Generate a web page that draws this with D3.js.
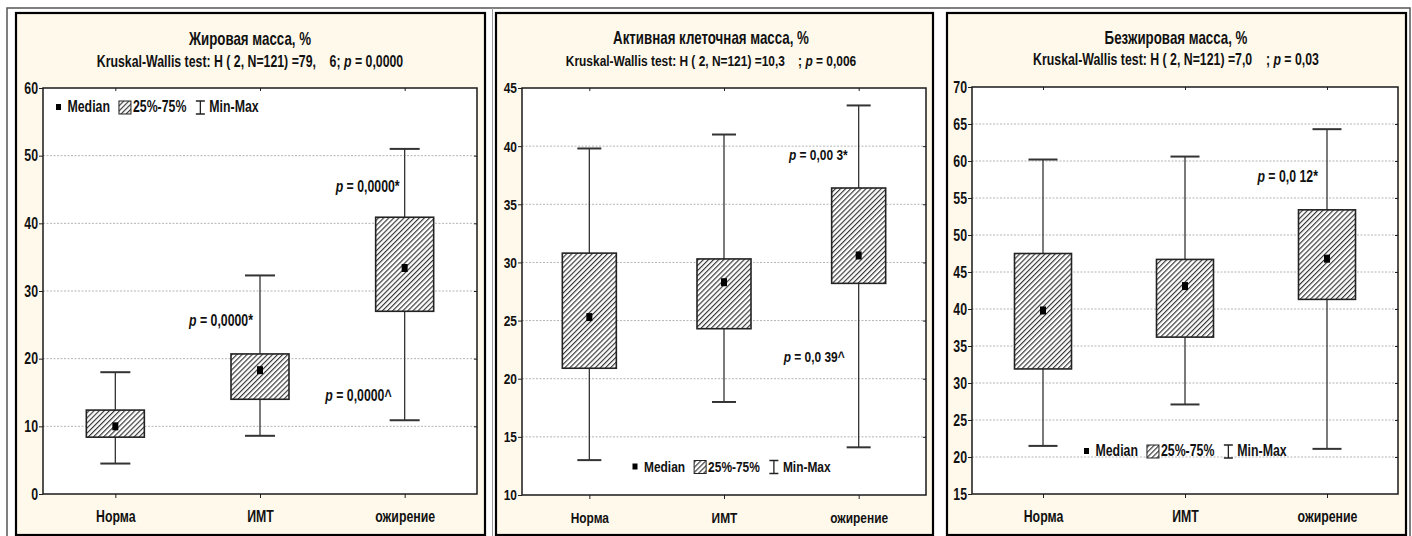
<!DOCTYPE html>
<html><head><meta charset="utf-8">
<script src="https://cdn.jsdelivr.net/npm/d3@7"></script>
<style>
html,body{margin:0;padding:0;background:#fff;}
svg{display:block;}
text{font-family:"Liberation Sans",Arial,sans-serif;font-weight:bold;fill:#111;white-space:pre;}
</style></head><body>
<svg id="c" width="1412" height="536"></svg>
<script>
// ---------- DATA ----------
const categories = ["Норма", "ИМТ", "ожирение"];

// Panel 1: Жировая масса, %
const fatTitle = "Жировая масса, %";
const fatTest = ["Kruskal-Wallis test: H ( 2, N=121) =79,    6; ", " = 0,0000"];
const fatTicks = [0, 10, 20, 30, 40, 50, 60];
const fatMin = [4.5, 8.6, 10.9];
const fatQ1  = [8.4, 14.0, 27.0];
const fatMed = [10.0, 18.3, 33.4];
const fatQ3  = [12.4, 20.7, 40.9];
const fatMax = [18.0, 32.3, 51.0];
const fatNotes = [" = 0,0000*", " = 0,0000*", " = 0,0000^"];
const fatNoteCat = ["ИМТ", "ожирение", "ожирение"];
const fatNoteVal = [24.8, 44.6, 13.7];

// Panel 2: Активная клеточная масса, %
const acmTitle = "Активная клеточная масса, %";
const acmTest = ["Kruskal-Wallis test: H ( 2, N=121) =10,3    ; ", " = 0,006"];
const acmTicks = [10, 15, 20, 25, 30, 35, 40, 45];
const acmMin = [13.0, 18.0, 14.1];
const acmQ1  = [20.9, 24.3, 28.2];
const acmMed = [25.3, 28.3, 30.6];
const acmQ3  = [30.8, 30.3, 36.4];
const acmMax = [39.8, 41.0, 43.5];
const acmNotes = [" = 0,00 3*", " = 0,0 39^"];
const acmNoteCat = ["ожирение", "ожирение"];
const acmNoteVal = [38.8, 21.4];

// Panel 3: Безжировая масса, %
const ffmTitle = "Безжировая масса, %";
const ffmTest = ["Kruskal-Wallis test: H ( 2, N=121) =7,0    ; ", " = 0,03"];
const ffmTicks = [15, 20, 25, 30, 35, 40, 45, 50, 55, 60, 65, 70];
const ffmMin = [21.5, 27.1, 21.1];
const ffmQ1  = [31.9, 36.2, 41.3];
const ffmMed = [39.8, 43.1, 46.8];
const ffmQ3  = [47.5, 46.7, 53.4];
const ffmMax = [60.2, 60.6, 64.3];
const ffmNotes = [" = 0,0 12*"];
const ffmNoteCat = ["ожирение"];
const ffmNoteVal = [57.2];

const legendLabels = ["Median", "25%-75%", "Min-Max"];

// ---------- LAYOUT ----------
const NARROW = 0.77;
function narrow(sel, f) {
  f = f || NARROW;
  sel.each(function () {
    const L = this.getComputedTextLength();
    this.setAttribute("textLength", L * f);
    this.setAttribute("lengthAdjust", "spacingAndGlyphs");
  });
  return sel;
}
// one <text> with tspans (some italic), compressed horizontally by a transform
function rich(g, x, y, anchor, parts, size, f) {
  f = f || NARROW;
  const t = g.append("g").attr("transform", `translate(${x},${y}) scale(${f},1)`)
    .append("text").attr("text-anchor", anchor).style("font-size", size + "px");
  parts.forEach(pt => {
    const s = t.append("tspan").text(pt.t);
    if (pt.i) s.style("font-style", "italic");
  });
  return t;
}

const svg = d3.select("#c");
const defs = svg.append("defs");
const pat = defs.append("pattern").attr("id", "hatch").attr("patternUnits", "userSpaceOnUse")
  .attr("width", 3.6).attr("height", 3.6).attr("patternTransform", "rotate(45)");
pat.append("rect").attr("width", 3.6).attr("height", 3.6).attr("fill", "#fff");
pat.append("line").attr("x1", 0.6).attr("y1", 0).attr("x2", 0.6).attr("y2", 3.6)
  .attr("stroke", "#2a2a2a").attr("stroke-width", 1.1);

svg.append("path").attr("d", "M7,536V8H1410V536").attr("fill", "none").attr("stroke", "#555").attr("stroke-width", 1.5);
svg.append("line").attr("x1", 492.5).attr("x2", 492.5).attr("y1", 8).attr("y2", 536).attr("stroke", "#999").attr("stroke-width", 1);

const panels = [
  { title: fatTitle, test: fatTest, ticks: fatTicks, min: fatMin, q1: fatQ1, med: fatMed, q3: fatQ3, max: fatMax,
    notes: fatNotes, noteCat: fatNoteCat, noteVal: fatNoteVal, noteDx: [-7, -5, -13],
    frame: [16, 13, 469, 522], plot: [43, 477, 88, 494], cx: 250, tY: 45, sY: 67,
    boxW: 58, capW: 30, legend: [58.5, 107], fs: 16 },
  { title: acmTitle, test: acmTest, ticks: acmTicks, min: acmMin, q1: acmQ1, med: acmMed, q3: acmQ3, max: acmMax,
    notes: acmNotes, noteCat: acmNoteCat, noteVal: acmNoteVal, noteDx: [-11, -14],
    frame: [496, 13, 437, 522], plot: [522, 926, 88, 495], cx: 711, tY: 44, sY: 66,
    boxW: 54, capW: 24, legend: [635, 466.5], fs: 15.5 },
  { title: ffmTitle, test: ffmTest, ticks: ffmTicks, min: ffmMin, q1: ffmQ1, med: ffmMed, q3: ffmQ3, max: ffmMax,
    notes: ffmNotes, noteCat: ffmNoteCat, noteVal: ffmNoteVal, noteDx: [-9],
    frame: [947, 13, 459, 522], plot: [972, 1398, 87, 494], cx: 1176, tY: 44, sY: 65,
    boxW: 57, capW: 29, legend: [1086.5, 451], fs: 16 }
];

panels.forEach(p => {
  const g = svg.append("g");
  const [fx, fy, fw, fh] = p.frame;
  g.append("rect").attr("x", fx).attr("y", fy).attr("width", fw).attr("height", fh)
    .attr("fill", "#fff9ec").attr("stroke", "#000").attr("stroke-width", 2.2);

  rich(g, p.cx, p.tY, "middle", [{ t: p.title }], 18, 0.74);
  rich(g, p.cx, p.sY, "middle", [{ t: p.test[0] }, { t: "p", i: true }, { t: p.test[1] }], p.fs);

  const [l, r, t, b] = p.plot;
  g.append("rect").attr("x", l).attr("y", t).attr("width", r - l).attr("height", b - t).attr("fill", "#fff");

  const x = d3.scalePoint().domain(categories).range([l, r]).padding(0.5);
  const y = d3.scaleLinear().domain([p.ticks[0], p.ticks[p.ticks.length - 1]]).range([b, t]);

  g.append("g").selectAll("line").data(p.ticks.slice(1, -1)).join("line")
    .attr("x1", l).attr("x2", r).attr("y1", d => y(d)).attr("y2", d => y(d))
    .attr("stroke", "#b4b4b4").attr("stroke-width", 1).attr("stroke-dasharray", "2,1.5");

  const ya = g.append("g").attr("transform", `translate(${l},0)`)
    .call(d3.axisLeft(y).tickValues(p.ticks).tickSize(4).tickPadding(1).tickFormat(d3.format("d")));
  ya.select(".domain").remove();
  ya.selectAll("line").attr("stroke", "#222");
  ya.selectAll("text").style("font-size", p.fs + "px").style("font-weight", "bold")
    .style("font-family", "'Liberation Sans',Arial,sans-serif").attr("fill", "#111");
  narrow(ya.selectAll("text"));
  const yr = g.append("g").attr("transform", `translate(${r},0)`)
    .call(d3.axisRight(y).tickValues(p.ticks.slice(1, -1)).tickSize(-3).tickFormat(""));
  yr.select(".domain").remove(); yr.selectAll("line").attr("stroke", "#222");

  const xa = g.append("g").attr("transform", `translate(0,${b})`)
    .call(d3.axisBottom(x).tickSize(4).tickPadding(13));
  xa.select(".domain").remove();
  xa.selectAll("line").attr("stroke", "#222");
  xa.selectAll("text").style("font-size", p.fs + "px").style("font-weight", "bold")
    .style("font-family", "'Liberation Sans',Arial,sans-serif").attr("fill", "#111");
  narrow(xa.selectAll("text"));
  const xt = g.append("g").attr("transform", `translate(0,${t})`)
    .call(d3.axisTop(x).tickSize(-3).tickFormat(""));
  xt.select(".domain").remove(); xt.selectAll("line").attr("stroke", "#222");

  g.append("rect").attr("x", l).attr("y", t).attr("width", r - l).attr("height", b - t)
    .attr("fill", "none").attr("stroke", "#1a1a1a").attr("stroke-width", 1.5);

  const bx = g.append("g");
  categories.forEach((c, i) => {
    const cx = x(c);
    bx.append("line").attr("x1", cx).attr("x2", cx).attr("y1", y(p.min[i])).attr("y2", y(p.max[i]))
      .attr("stroke", "#333").attr("stroke-width", 1.3);
    [p.min[i], p.max[i]].forEach(v => {
      bx.append("line").attr("x1", cx - p.capW / 2).attr("x2", cx + p.capW / 2)
        .attr("y1", y(v)).attr("y2", y(v)).attr("stroke", "#333").attr("stroke-width", 2);
    });
    bx.append("rect").attr("x", cx - p.boxW / 2).attr("y", y(p.q3[i]))
      .attr("width", p.boxW).attr("height", y(p.q1[i]) - y(p.q3[i]))
      .attr("fill", "url(#hatch)").attr("stroke", "#222").attr("stroke-width", 1.6);
    bx.append("rect").attr("x", cx - 3).attr("y", y(p.med[i]) - 4)
      .attr("width", 6).attr("height", 8).attr("fill", "#000");
  });

  p.notes.forEach((n, i) => {
    rich(g, x(p.noteCat[i]) + p.noteDx[i], y(p.noteVal[i]), "end", [{ t: "p", i: true }, { t: n }], p.fs);
  });

  const [lx, ly] = p.legend;
  const lg = g.append("g");
  lg.append("rect").attr("x", lx - 2.5).attr("y", ly - 3).attr("width", 5).attr("height", 6).attr("fill", "#000");
  let cur = lx + 9;
  const t1 = lg.append("text").attr("x", cur).attr("y", ly + 5).style("font-size", p.fs + "px").text(legendLabels[0]);
  cur += t1.node().getComputedTextLength() * NARROW + 9; narrow(t1);
  lg.append("rect").attr("x", cur).attr("y", ly - 6).attr("width", 12).attr("height", 13)
    .attr("fill", "url(#hatch)").attr("stroke", "#222").attr("stroke-width", 1);
  cur += 14;
  const t2 = lg.append("text").attr("x", cur).attr("y", ly + 5).style("font-size", p.fs + "px").text(legendLabels[1]);
  cur += t2.node().getComputedTextLength() * NARROW + 14; narrow(t2);
  lg.append("path").attr("d", `M${cur - 4.5},${ly - 6}H${cur + 4.5}M${cur},${ly - 6}V${ly + 7}M${cur - 4.5},${ly + 7}H${cur + 4.5}`)
    .attr("stroke", "#222").attr("stroke-width", 1.3).attr("fill", "none");
  cur += 9;
  narrow(lg.append("text").attr("x", cur).attr("y", ly + 5).style("font-size", p.fs + "px").text(legendLabels[2]));
});
</script>
</body></html>
